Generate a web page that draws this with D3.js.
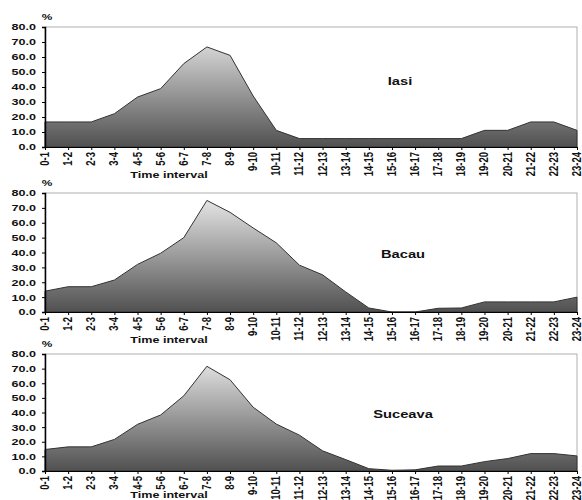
<!DOCTYPE html>
<html>
<head>
<meta charset="utf-8">
<script src="https://cdn.jsdelivr.net/npm/d3@7"></script>
<style>
body { margin: 0; background: #fff; }
svg text { font-family: "Liberation Sans", Arial, sans-serif; font-weight: bold; fill: #111; }
</style>
</head>
<body>
<svg id="canvas" width="582" height="500"></svg>
<script>
// time intervals (hours)
let categories = ["0-1","1-2","2-3","3-4","4-5","5-6","6-7","7-8","8-9","9-10","10-11","11-12",
  "12-13","13-14","14-15","15-16","16-17","17-18","18-19","19-20","20-21","21-22","22-23","23-24"]

let iasi = [16.7,16.7,16.7,22.2,33.3,38.9,55.6,66.7,61.1,34.0,11.1,5.6,
  5.6,5.6,5.6,5.6,5.6,5.6,5.6,11.1,11.1,16.7,16.7,11.1]
let bacau = [14.0,17.0,17.0,21.5,32.0,39.5,50.0,75.0,67.0,56.5,46.5,31.5,
  25.0,13.5,2.7,0.0,0.0,2.5,2.7,6.8,6.8,6.8,6.8,10.0]
let suceava = [14.7,16.5,16.5,21.6,31.9,38.3,51.4,71.6,62.4,43.6,32.1,24.5,
  13.8,7.8,1.6,0.5,0.8,3.4,3.4,6.4,8.5,11.9,11.9,10.3]

let yTicks = [0,10,20,30,40,50,60,70,80]

let panels = [
  {name: "Iasi", values: iasi, top: 27, bottom: 147, titleX: 400, titleY: 85, labelY: 178},
  {name: "Bacau", values: bacau, top: 193, bottom: 312, titleX: 403, titleY: 258, labelY: 343},
  {name: "Suceava", values: suceava, top: 354, bottom: 471, titleX: 403, titleY: 498, labelY: 498}
]
panels[2].titleY = 418

let canvas = d3.select('#canvas')
let left = 45, right = 577
let sx = 1.4  // the original text is stretched sideways

let x = d3.scalePoint()
    .domain(categories)
    .range([left, right])

let defs = canvas.append('defs')

panels.forEach(function (p, i) {
    let y = d3.scaleLinear().domain([0, 80]).range([p.bottom, p.top])

    let grad = defs.append('linearGradient')
        .attr('id', 'grad' + i)
        .attr('gradientUnits', 'userSpaceOnUse')
        .attr('x1', 0).attr('x2', 0)
        .attr('y1', p.top).attr('y2', p.bottom)
    grad.append('stop').attr('offset', '0%').attr('stop-color', '#eeeeee')
    grad.append('stop').attr('offset', '100%').attr('stop-color', '#505050')

    let g = canvas.append('g')

    // plot frame
    g.append('rect')
        .attr('x', left).attr('y', p.top)
        .attr('width', right - left).attr('height', p.bottom - p.top)
        .attr('fill', 'none')
        .attr('stroke', '#b0b0b0')
        .attr('stroke-width', 1)

    let area = d3.area()
        .x(function (d, j) { return x(categories[j]) })
        .y0(p.bottom)
        .y1(function (d) { return y(d) })

    g.append('path')
        .datum(p.values)
        .attr('d', area)
        .attr('fill', 'url(#grad' + i + ')')
        .attr('stroke', '#333')
        .attr('stroke-width', 1)

    // y axis
    let yAxis = g.append('g')
        .attr('transform', 'translate(' + left + ',0)')
        .call(d3.axisLeft(y).tickValues(yTicks).tickFormat(d3.format('.1f')).tickSize(3).tickPadding(3))
    yAxis.select('.domain').attr('stroke', '#000').attr('stroke-width', 1.5)
    yAxis.selectAll('.tick line').attr('stroke', '#000')
    yAxis.selectAll('.tick text')
        .attr('font-size', 9)
        .attr('x', null)
        .attr('dy', null)
        .attr('text-anchor', 'end')
        .attr('dominant-baseline', 'middle')
        .attr('transform', 'translate(-9,0.5) scale(' + sx + ',1)')

    // x axis
    let xAxis = g.append('g')
        .attr('transform', 'translate(0,' + p.bottom + ')')
        .call(d3.axisBottom(x).tickSize(3).tickSizeOuter(0))
    xAxis.select('.domain').attr('stroke', '#000')
    xAxis.selectAll('.tick line').attr('stroke', '#000')
    xAxis.selectAll('.tick text')
        .attr('font-size', 9.5)
        .attr('y', null)
        .attr('dy', null)
        .attr('text-anchor', 'end')
        .attr('dominant-baseline', 'middle')
        .attr('transform', 'translate(0,5) scale(' + sx + ',1) rotate(-90)')

    g.append('text')
        .attr('transform', 'translate(169,' + p.labelY + ') scale(' + sx + ',1)')
        .attr('text-anchor', 'middle')
        .attr('font-size', 9)
        .text('Time interval')

    g.append('text')
        .attr('transform', 'translate(47,' + (p.top - 7) + ') scale(' + sx + ',1)')
        .attr('text-anchor', 'middle')
        .attr('font-size', 8.5)
        .text('%')

    g.append('text')
        .attr('transform', 'translate(' + p.titleX + ',' + p.titleY + ') scale(' + sx + ',1)')
        .attr('text-anchor', 'middle')
        .attr('font-size', 10.5)
        .text(p.name)
})
</script>
</body>
</html>
